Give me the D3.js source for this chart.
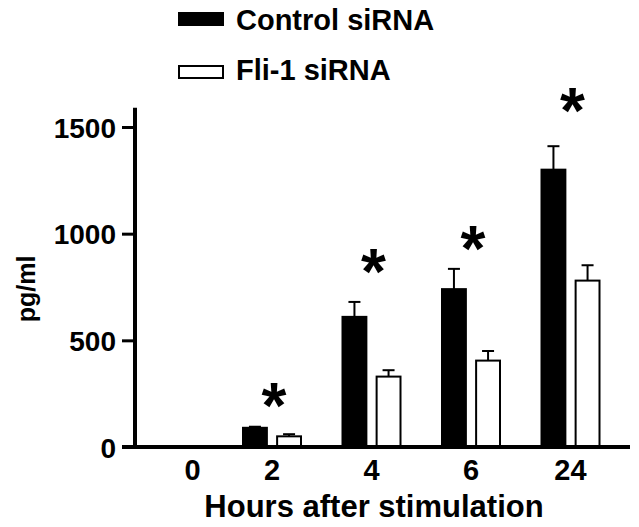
<!DOCTYPE html>
<html>
<head>
<meta charset="utf-8">
<script src="https://cdn.jsdelivr.net/npm/d3@7"></script>
<style>
  body { margin: 0; background: #fff; }
  text { font-family: "Liberation Sans", Arial, sans-serif; font-weight: bold; fill: #000; }
</style>
</head>
<body>
<div id="chart"></div>
<script>
var svgWidth = 639;
var svgHeight = 527;

// data
var hours = ["0", "2", "4", "6", "24"];
var seriesNames = ["Control siRNA", "Fli-1 siRNA"];
var controlMean = [0, 90, 610, 740, 1300];
var controlErr = [0, 5, 70, 95, 110];
var fliMean = [0, 50, 330, 405, 780];
var fliErr = [0, 10, 30, 45, 72];
// significance stars (value level where each star sits)
var starHours = ["2", "4", "6", "24"];
var starLevel = [252, 883, 991, 1636];
var yTicks = [0, 500, 1000, 1500];
var yAxisTop = 1590;

var svg = d3.select("#chart")
  .append("svg")
  .attr("width", svgWidth)
  .attr("height", svgHeight);

var yScale = d3.scaleLinear()
  .domain([0, 1500])
  .range([447, 127]);

var xScale = d3.scalePoint()
  .domain(hours)
  .range([172.5, 570.5]);

var innerScale = d3.scaleBand()
  .domain(seriesNames)
  .range([-29, 29])
  .paddingInner(0.3);

var colors = { "Control siRNA": "#000", "Fli-1 siRNA": "#fff" };

// build rows for bars
var rows = [];
hours.forEach(function(h, i) {
  rows.push({ hour: h, series: seriesNames[0], mean: controlMean[i], err: controlErr[i] });
  rows.push({ hour: h, series: seriesNames[1], mean: fliMean[i], err: fliErr[i] });
});
var shown = rows.filter(d => d.mean > 0);

// error bars (drawn first so the bar covers the lower half)
var errGroup = svg.append("g");
errGroup.selectAll("line.stem")
  .data(shown)
  .enter()
  .append("line")
  .attr("x1", d => xScale(d.hour) + innerScale(d.series) + innerScale.bandwidth() / 2)
  .attr("x2", d => xScale(d.hour) + innerScale(d.series) + innerScale.bandwidth() / 2)
  .attr("y1", d => yScale(d.mean))
  .attr("y2", d => yScale(d.mean + d.err))
  .attr("stroke", "#000")
  .attr("stroke-width", 2);

errGroup.selectAll("line.cap")
  .data(shown)
  .enter()
  .append("line")
  .attr("x1", d => xScale(d.hour) + innerScale(d.series) + innerScale.bandwidth() / 2 - 6)
  .attr("x2", d => xScale(d.hour) + innerScale(d.series) + innerScale.bandwidth() / 2 + 6)
  .attr("y1", d => yScale(d.mean + d.err))
  .attr("y2", d => yScale(d.mean + d.err))
  .attr("stroke", "#000")
  .attr("stroke-width", 2);

// bars
svg.append("g").selectAll("rect")
  .data(shown)
  .enter()
  .append("rect")
  .attr("x", d => xScale(d.hour) + innerScale(d.series))
  .attr("y", d => yScale(d.mean))
  .attr("width", innerScale.bandwidth())
  .attr("height", d => yScale(0) - yScale(d.mean))
  .attr("fill", d => colors[d.series])
  .attr("stroke", "#000")
  .attr("stroke-width", 2);

// stars
svg.append("g").selectAll("text")
  .data(starHours)
  .enter()
  .append("text")
  .attr("x", d => xScale(d) + 2)
  .attr("y", (d, i) => yScale(starLevel[i]) + 35)
  .attr("text-anchor", "middle")
  .style("font-size", "64px")
  .text("*");

// y axis
var leftAxis = d3.axisLeft(yScale)
  .tickValues(yTicks)
  .tickFormat(d3.format("d"))
  .tickSize(13)
  .tickPadding(6)
  .tickSizeOuter(0);

var yAxis = svg.append("g")
  .attr("transform", "translate(135,0)")
  .call(leftAxis);
yAxis.select(".domain").remove();
yAxis.selectAll(".tick line").attr("stroke", "#000").attr("stroke-width", 3);
yAxis.selectAll(".tick text")
  .attr("dy", "0.36em")
  .style("font-size", "28px")
  .style("font-family", "'Liberation Sans', Arial, sans-serif")
  .style("font-weight", "bold");

svg.append("line")
  .attr("x1", 135).attr("x2", 135)
  .attr("y1", yScale(yAxisTop)).attr("y2", yScale(0) + 2)
  .attr("stroke", "#000")
  .attr("stroke-width", 4);

// x axis baseline
svg.append("line")
  .attr("x1", 122).attr("x2", 630)
  .attr("y1", yScale(0)).attr("y2", yScale(0))
  .attr("stroke", "#000")
  .attr("stroke-width", 4);

// x tick labels
svg.append("g").selectAll("text")
  .data(hours)
  .enter()
  .append("text")
  .attr("x", d => xScale(d))
  .attr("dx", (d, i) => i === 0 ? 20 : 0)
  .attr("y", yScale(0) + 33)
  .attr("text-anchor", "middle")
  .style("font-size", "29px")
  .text(d => d);

// axis titles
svg.append("text")
  .attr("x", 374)
  .attr("y", 517)
  .attr("text-anchor", "middle")
  .style("font-size", "31px")
  .text("Hours after stimulation");

svg.append("text")
  .attr("transform", "translate(35,289) rotate(-90)")
  .attr("text-anchor", "middle")
  .style("font-size", "25px")
  .text("pg/ml");

// legend
var legend = svg.append("g").attr("transform", "translate(179,0)");
legend.selectAll("rect")
  .data(seriesNames)
  .enter()
  .append("rect")
  .attr("x", 0)
  .attr("y", (d, i) => 13 + i * 53)
  .attr("width", 44)
  .attr("height", 12)
  .attr("fill", d => colors[d])
  .attr("stroke", "#000")
  .attr("stroke-width", 2);

legend.selectAll("text")
  .data(seriesNames)
  .enter()
  .append("text")
  .attr("x", 57)
  .attr("y", (d, i) => 30 + i * 50)
  .style("font-size", "29px")
  .text(d => d);
</script>
</body>
</html>
